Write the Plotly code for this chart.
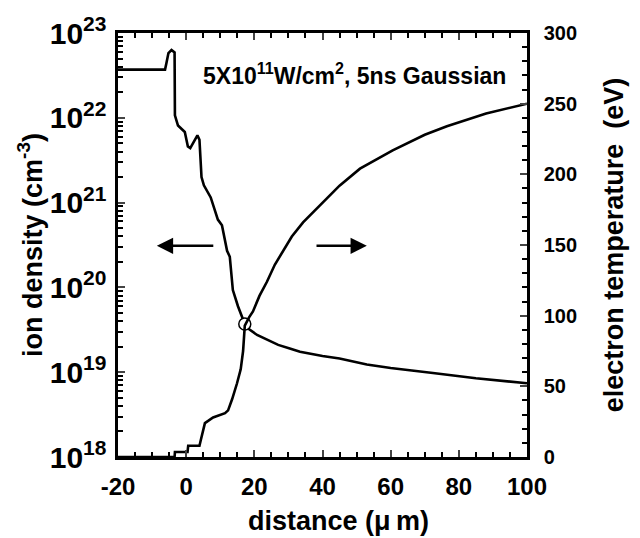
import plotly.graph_objects as go

# ---- data ----
density_x = [-20, -6.2, -5.8, -5.2, -4.3, -3.6, -3.4, -3.3, -2.4, -0.4, 0.5, 1.2, 2.2, 3.3, 3.9,
             4.5, 5.2, 7.2, 9.3, 10.5, 12.0, 12.8, 13.7, 15.2, 17.2, 18.5, 20.8, 24, 27, 30.4,
             33.4, 40, 45, 53, 60, 72.4, 85, 100]
density_n = [3.7e22, 3.7e22, 4.4e22, 5.8e22, 6.3e22, 6.0e22, 5.9e22, 1.07e22, 8.1e21, 6.8e21,
             4.6e21, 4.4e21, 5.2e21, 6.2e21, 5.5e21, 2.0e21, 1.6e21, 1.15e21, 6.3e20, 5.4e20,
             2.7e20, 2.3e20, 9.3e19, 6.0e19, 3.7e19, 3.2e19, 2.75e19, 2.4e19, 2.1e19, 1.9e19,
             1.74e19, 1.55e19, 1.45e19, 1.23e19, 1.12e19, 9.8e18, 8.5e18, 7.4e18]

temp_x = [-20, -3.4, -3.3, 0.4, 0.6, 3.9, 4.3, 5.5, 7.9, 11.4, 12.3, 13.5, 14.9, 16.0, 16.7,
          17.2, 18.5, 19.6, 21.5, 23.7, 26.0, 28.4, 31.0, 34.3, 39.2, 45, 51, 60.6, 70, 76.5,
          88, 100]
temp_T = [0, 0, 3.5, 3.5, 8, 8, 12, 24, 28, 31, 33, 41, 52, 62, 75, 93, 99, 103, 114, 124,
          136, 146, 156, 166, 178, 192, 204, 217, 228, 234, 243, 250]

cross_x = [17.2]
cross_n = [3.7e19]

x_ticks = [-20, 0, 20, 40, 60, 80, 100]
x_ticktext = ["-20", "0", "20", "40", "60", "80", "100"]
t_ticks = [0, 50, 100, 150, 200, 250, 300]

FONT = "Liberation Sans, Arial, sans-serif"

fig = go.Figure()
fig.add_trace(go.Scatter(x=density_x, y=density_n, mode="lines",
                         line=dict(color="black", width=2.6), yaxis="y", showlegend=False))
fig.add_trace(go.Scatter(x=temp_x, y=temp_T, mode="lines",
                         line=dict(color="black", width=2.6), yaxis="y2", showlegend=False))
fig.add_trace(go.Scatter(x=cross_x, y=cross_n, mode="markers",
                         marker=dict(size=12, color="white", line=dict(color="black", width=1.5)),
                         yaxis="y", showlegend=False))

tickfont = dict(family=FONT, size=24, color="black", weight="bold")
titlefont = dict(family=FONT, size=27, color="black", weight="bold")

fig.update_layout(
    width=640, height=538,
    margin=dict(l=118, r=113, t=26, b=81),
    paper_bgcolor="white", plot_bgcolor="white",
    xaxis=dict(range=[-20, 100], tickvals=x_ticks, ticktext=x_ticktext, ticks="inside",
               ticklen=7, tickwidth=2,
               showline=True, linewidth=2.5, linecolor="black", mirror="ticks",
               showgrid=False, zeroline=False, tickfont=tickfont,
               minor=dict(dtick=5, ticks="inside", ticklen=5, tickwidth=1.5, tickcolor="black", showgrid=False),
               ticklabelstandoff=6),
    yaxis=dict(type="log", range=[18, 23], dtick=1, exponentformat="power",
               ticks="inside", ticklen=7, tickwidth=2, showline=True, linewidth=2.5,
               linecolor="black", mirror=False, showgrid=False, zeroline=False,
               tickfont=tickfont,
               minor=dict(ticks="inside", ticklen=5, tickwidth=1.5, tickcolor="black", showgrid=False),
               title=dict(text="ion density (cm<sup>-3</sup>)", font=titlefont, standoff=0),
               ticklabelstandoff=4),
    yaxis2=dict(overlaying="y", side="right", range=[0, 300], tickvals=t_ticks,
                ticks="inside", ticklen=7, tickwidth=2, showline=True, linewidth=2.5,
                linecolor="black", showgrid=False, zeroline=False,
                tickfont=dict(family=FONT, size=20, color="black", weight="bold"),
                minor=dict(dtick=10, ticks="inside", ticklen=5, tickwidth=1.5, tickcolor="black", showgrid=False),
                title=dict(text="electron temperature\u00a0\u00a0(eV)", font=titlefont, standoff=28),
                ticklabelstandoff=10),
    annotations=[
        dict(x=(338 - 118) / 409, y=-0.152, xref="paper", yref="paper", showarrow=False,
             xanchor="center", yanchor="middle", text="distance (\u03bc\u2009m)", font=titlefont),
        dict(x=0.578, y=0.903, xref="paper", yref="paper", showarrow=False,
             xanchor="center", yanchor="middle",
             text="5X10<sup>11</sup>W/cm<sup>2</sup>, 5ns Gaussian",
             font=dict(family=FONT, size=23, color="black", weight="bold")),
        dict(x=-8.6, y=20.49, xref="x", yref="y", ax=8.4, ay=20.49, axref="x", ayref="y",
             showarrow=True, arrowhead=2, arrowsize=1.3, arrowwidth=2.5, arrowcolor="black", text=""),
        dict(x=53.0, y=20.49, xref="x", yref="y", ax=37.8, ay=20.49, axref="x", ayref="y",
             showarrow=True, arrowhead=2, arrowsize=1.3, arrowwidth=2.5, arrowcolor="black", text=""),
    ],
)

fig.write_html("out.html")
